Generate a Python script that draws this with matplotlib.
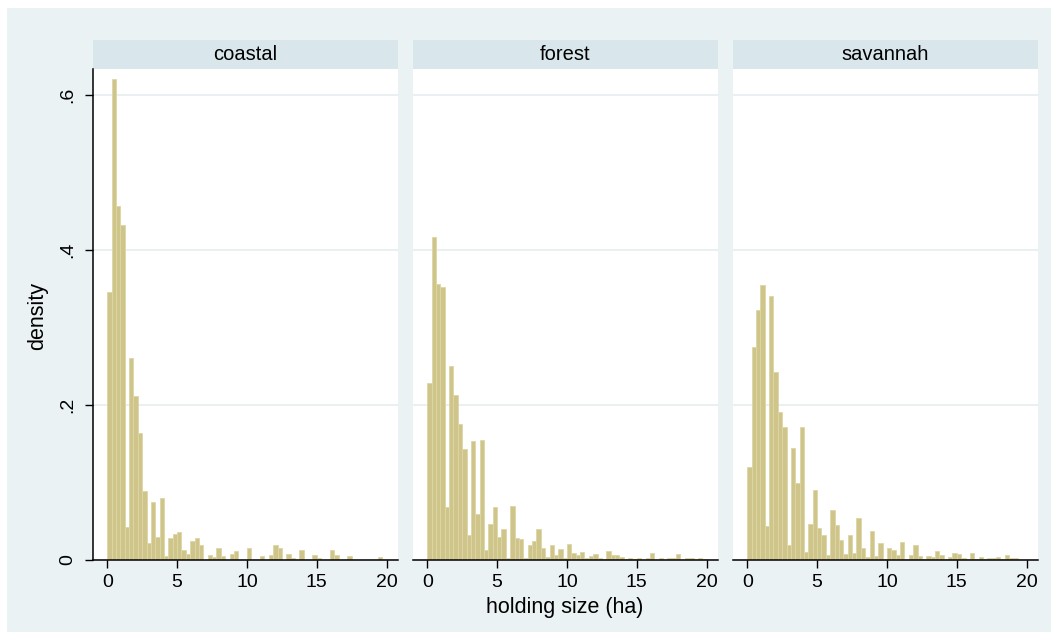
import numpy as np
import matplotlib
matplotlib.use("Agg")
import matplotlib.pyplot as plt
from matplotlib.patches import Rectangle

plt.rcParams['font.family'] = ['Liberation Sans', 'DejaVu Sans']

# bins of width 0.3125 ha from 0 to 20
bin_width = 0.3125
bin_edges = np.arange(65) * bin_width

regions = ["coastal", "forest", "savannah"]

coastal = [0.346, 0.621, 0.457, 0.432, 0.042, 0.261, 0.212, 0.164, 0.089, 0.022,
           0.075, 0.030, 0.080, 0.005, 0.029, 0.034, 0.036, 0.013, 0.008, 0.024,
           0.028, 0.019, 0.000, 0.006, 0.004, 0.016, 0.005, 0.000, 0.008, 0.012,
           0.000, 0.000, 0.015, 0.000, 0.000, 0.005, 0.000, 0.006, 0.019, 0.016,
           0.000, 0.008, 0.003, 0.000, 0.013, 0.000, 0.000, 0.006, 0.003, 0.000,
           0.000, 0.013, 0.006, 0.000, 0.000, 0.005, 0.000, 0.000, 0.000, 0.000,
           0.000, 0.000, 0.004, 0.000]

forest = [0.228, 0.417, 0.357, 0.353, 0.068, 0.251, 0.213, 0.175, 0.143, 0.032,
          0.154, 0.060, 0.155, 0.013, 0.046, 0.068, 0.030, 0.040, 0.003, 0.070,
          0.028, 0.027, 0.002, 0.019, 0.024, 0.040, 0.015, 0.004, 0.019, 0.006,
          0.014, 0.002, 0.021, 0.009, 0.007, 0.010, 0.002, 0.005, 0.008, 0.003,
          0.001, 0.011, 0.007, 0.006, 0.004, 0.001, 0.003, 0.001, 0.003, 0.000,
          0.003, 0.009, 0.000, 0.003, 0.000, 0.003, 0.003, 0.008, 0.000, 0.002,
          0.002, 0.000, 0.002, 0.001]

savannah = [0.120, 0.275, 0.323, 0.355, 0.044, 0.341, 0.243, 0.191, 0.172, 0.019,
            0.145, 0.100, 0.172, 0.010, 0.046, 0.091, 0.041, 0.032, 0.007, 0.065,
            0.045, 0.026, 0.008, 0.032, 0.009, 0.054, 0.015, 0.004, 0.037, 0.005,
            0.022, 0.001, 0.015, 0.013, 0.006, 0.023, 0.001, 0.006, 0.019, 0.005,
            0.001, 0.005, 0.004, 0.012, 0.006, 0.001, 0.004, 0.009, 0.008, 0.003,
            0.001, 0.009, 0.001, 0.004, 0.001, 0.003, 0.003, 0.004, 0.001, 0.006,
            0.003, 0.002, 0.000, 0.000]

densities = [coastal, forest, savannah]

x_ticks = [0, 5, 10, 15, 20]
y_ticks = [0, 0.2, 0.4, 0.6]
y_ticklabels = ["0", ".2", ".4", ".6"]

W, H = 1058, 640
bg_color = "#EAF2F3"
strip_color = "#D9E6EB"
bar_color = "#CFC48A"
bar_edge = "#DDD6A6"
grid_color = "#E6EEF0"

fig = plt.figure(figsize=(W / 100, H / 100), dpi=100)
fig.patch.set_facecolor("white")
# light background panel behind everything
fig.patches.append(Rectangle((7 / W, 8 / H), (1051 - 7) / W, (632 - 8) / H,
                             transform=fig.transFigure, facecolor=bg_color,
                             edgecolor="none", zorder=-10))

lefts = [93, 413, 733]
panel_w = 305
plot_top, plot_bottom = 69, 560
strip_top = 40

for i, (name, dens) in enumerate(zip(regions, densities)):
    left = lefts[i]
    ax = fig.add_axes([left / W, (H - plot_bottom) / H, panel_w / W,
                       (plot_bottom - plot_top) / H])
    ax.set_facecolor("white")

    dens = np.array(dens)
    keep = dens > 0
    ax.bar(bin_edges[:-1][keep], dens[keep], width=bin_width, align="edge",
           color=bar_color, edgecolor=bar_edge, linewidth=0.6, zorder=2)

    ax.set_xlim(-1.02, 20.81)
    ax.set_ylim(0, 0.634)
    ax.set_xticks(x_ticks)
    ax.set_xticklabels([str(t) for t in x_ticks], fontsize=14)
    ax.tick_params(axis="x", length=6, width=1, pad=4, colors="black")
    ax.set_yticks(y_ticks)
    ax.yaxis.grid(True, color=grid_color, linewidth=1.2, zorder=0)
    ax.set_axisbelow(True)

    for s in ["top", "right"]:
        ax.spines[s].set_visible(False)
    ax.spines["bottom"].set_linewidth(1.1)
    if i == 0:
        ax.set_yticklabels(y_ticklabels, fontsize=14, rotation=90, va="center")
        ax.tick_params(axis="y", length=6, width=1, pad=6)
        ax.spines["left"].set_linewidth(1.1)
    else:
        ax.spines["left"].set_visible(False)
        ax.tick_params(axis="y", length=0, labelleft=False)

    # strip title
    fig.patches.append(Rectangle((left / W, (H - plot_top) / H), panel_w / W,
                                 (plot_top - strip_top) / H,
                                 transform=fig.transFigure, facecolor=strip_color,
                                 edgecolor="none", zorder=-5))
    fig.text((left + panel_w / 2) / W, (H - (plot_top + strip_top) / 2) / H, name,
             ha="center", va="center", fontsize=14.5)

fig.text(565 / W, (H - 607) / H, "holding size (ha)", ha="center", va="center",
         fontsize=15.5)
fig.text(38 / W, (H - 316) / H, "density", ha="center", va="center",
         rotation=90, fontsize=15.5)

fig.savefig("out.png", dpi=100)
